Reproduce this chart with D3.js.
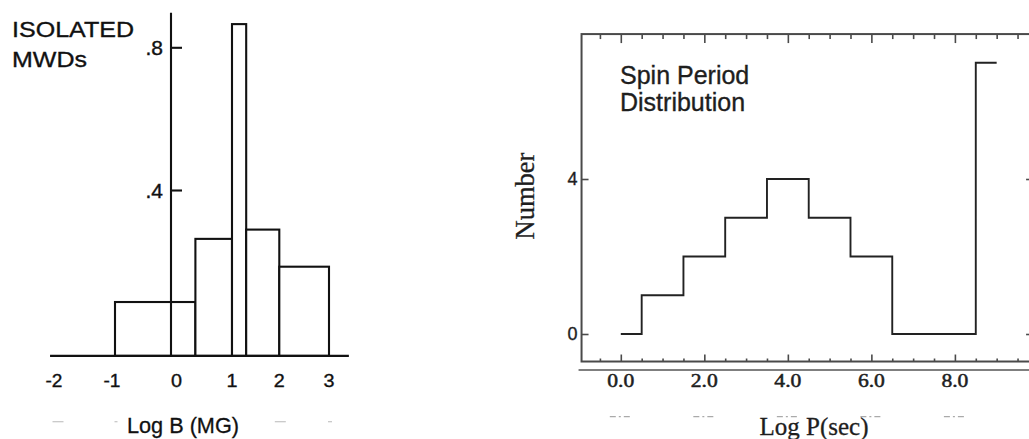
<!DOCTYPE html>
<html>
<head>
<meta charset="utf-8">
<script src="https://cdn.jsdelivr.net/npm/d3@7"></script>
<style>
  html, body { margin: 0; padding: 0; background: #fff; }
  svg { display: block; }
</style>
</head>
<body>
<script>
// ---- Isolated magnetic white dwarfs: field-strength histogram ----
const fieldBinEdges = [-1, 0.4, 1.0, 1.3, 2.0, 3.0];     // log B (MG)
const fieldFractions = [0.086, 0.263, 0.865, 0.289, 0.185];
const fieldTickValues = [-2, -1, 0, 1, 2, 3];
const fractionTickValues = [0.4, 0.8];
const fractionTickLabels = [".4", ".8"];

// ---- Spin period distribution ----
const periodBinEdges = [0, 0.5, 1.5, 2.5, 3.5, 4.5, 5.5, 6.5, 7.5, 8.5, 9.0]; // log P (s)
const periodCounts = [0, 1, 2, 3, 4, 3, 2, 0, 0, 7];
const periodMajorTicks = [0, 2, 4, 6, 8, 10];
const periodLabelTicks = [0, 2, 4, 6, 8];
const periodTickLabels = ["0.0", "2.0", "4.0", "6.0", "8.0"];
const countTickValues = [0, 4];
const countTickLabels = ["0", "4"];

const W = 1029, H = 439;
const sans = "'Liberation Sans', Arial, Helvetica, sans-serif";
const serif = "'Liberation Serif', 'Times New Roman', Times, serif";
const ink = "#111";

const svg = d3.select("body").append("svg")
  .attr("width", W).attr("height", H)
  .attr("viewBox", `0 0 ${W} ${H}`);

// heavier lettering, like the printed figure
function heavy(sel, w) {
  return sel.attr("stroke", sel.attr("fill") || ink).attr("stroke-width", w).attr("paint-order", "stroke");
}

/* ================= left panel ================= */
const left = svg.append("g");
// hand-drawn axis: the decade spacing is not uniform, so map each labelled decade
const xB = d3.scaleLinear().domain(fieldTickValues).range([57, 115, 171, 232, 279.3, 329]);
const yB = d3.scaleLinear().domain([0, 0.8]).range([332.7, 47.3]);
const floorB = -0.065;   // where the drawn baseline sits
const topB = 0.897;

left.selectAll("rect.bar")
  .data(fieldFractions)
  .join("rect")
  .attr("class", "bar")
  .attr("x", (d, i) => xB(fieldBinEdges[i]))
  .attr("width", (d, i) => xB(fieldBinEdges[i + 1]) - xB(fieldBinEdges[i]))
  .attr("y", d => yB(d))
  .attr("height", d => yB(floorB) - yB(d))
  .attr("fill", "#fff")
  .attr("stroke", ink)
  .attr("stroke-width", 2.1);

// baseline
left.append("line")
  .attr("x1", xB(-2.12)).attr("x2", xB(3.4))
  .attr("y1", yB(floorB)).attr("y2", yB(floorB))
  .attr("stroke", ink).attr("stroke-width", 2.1);

// vertical axis at log B = 0, ticks pointing right
const yAxisB = left.append("g")
  .attr("transform", `translate(${xB(0)},0)`)
  .call(d3.axisRight(yB).tickValues(fractionTickValues).tickSize(11).tickFormat(""));
yAxisB.select(".domain").remove();
yAxisB.selectAll(".tick line").attr("stroke", ink).attr("stroke-width", 2.1);
left.append("line")
  .attr("x1", xB(0)).attr("x2", xB(0))
  .attr("y1", yB(topB)).attr("y2", yB(floorB))
  .attr("stroke", ink).attr("stroke-width", 2.1);

left.selectAll("text.ylab")
  .data(fractionTickValues)
  .join("text")
  .attr("class", "ylab")
  .attr("x", xB(0) - 8)
  .attr("y", d => yB(d))
  .attr("dy", "0.36em")
  .attr("text-anchor", "end")
  .attr("font-family", sans).attr("font-size", 21)
  .attr("fill", ink)
  .text((d, i) => fractionTickLabels[i])
  .call(heavy, 0.4);

left.selectAll("text.xlab")
  .data(fieldTickValues)
  .join("text")
  .attr("class", "xlab")
  .attr("x", d => xB(d) + (d === 0 ? 11 : 5.5))
  .attr("y", 387)
  .attr("text-anchor", "end")
  .attr("font-family", sans).attr("font-size", 18)
  .attr("textLength", d => d < 0 ? 17 : 11).attr("lengthAdjust", "spacingAndGlyphs")
  .attr("fill", ink)
  .text(d => String(d))
  .call(heavy, 0.35);

// faint show-through marks under the axis labels
const ghostB = [[-2, 11], [-1, 3], [2, 11], [3, 4]];
left.selectAll("line.ghost")
  .data(ghostB)
  .join("line")
  .attr("class", "ghost")
  .attr("x1", d => xB(d[0]) - d[1] / 2 + 1).attr("x2", d => xB(d[0]) + d[1] / 2 + 1)
  .attr("y1", 421.7).attr("y2", 421.7)
  .attr("stroke", "#c4c4c4").attr("stroke-width", 1.2);

left.append("text")
  .attr("x", 183).attr("y", 433)
  .attr("text-anchor", "middle")
  .attr("font-family", sans).attr("font-size", 22)
  .attr("textLength", 112).attr("lengthAdjust", "spacingAndGlyphs")
  .attr("fill", ink)
  .text("Log B (MG)")
  .call(heavy, 0.3);

left.append("text")
  .attr("x", 12).attr("y", 36.7)
  .attr("font-family", sans).attr("font-size", 22.5)
  .attr("textLength", 122).attr("lengthAdjust", "spacingAndGlyphs")
  .attr("fill", ink)
  .text("ISOLATED")
  .call(heavy, 0.35);
left.append("text")
  .attr("x", 12).attr("y", 66.7)
  .attr("font-family", sans).attr("font-size", 22.5)
  .attr("textLength", 75).attr("lengthAdjust", "spacingAndGlyphs")
  .attr("fill", ink)
  .text("MWDs")
  .call(heavy, 0.35);

/* ================= right panel ================= */
const right = svg.append("g");
const xP = d3.scaleLinear().domain([0, 8]).range([620.8, 954.9]);
const yP = d3.scaleLinear().domain([0, 4]).range([334, 179]);
const frameX = [-0.94, 9.92];
const frameY = [-0.71, 7.74];
const frameColor = "#4a4a4a";
const rInk = "#1e1e1e";

const fx0 = xP(frameX[0]), fx1 = xP(frameX[1]);
const fy0 = yP(frameY[1]), fy1 = yP(frameY[0]);

const minorP = d3.range(-0.5, 10, 0.5).filter(v => v % 2 !== 0);

// bottom edge: ticks pointing up
const bottomAxis = right.append("g").attr("transform", `translate(0,${fy1})`);
bottomAxis.append("g")
  .call(d3.axisBottom(xP).tickValues(minorP).tickSizeInner(-3).tickSizeOuter(0).tickFormat(""));
bottomAxis.append("g")
  .call(d3.axisBottom(xP).tickValues(periodMajorTicks).tickSizeInner(-7).tickSizeOuter(0).tickFormat(""));
bottomAxis.selectAll(".domain").remove();
bottomAxis.selectAll(".tick line").attr("stroke", frameColor).attr("stroke-width", 1.6);

// labels under the second rule
right.selectAll("text.xlab")
  .data(periodLabelTicks)
  .join("text")
  .attr("class", "xlab")
  .attr("x", d => xP(d))
  .attr("y", 386.7)
  .attr("text-anchor", "middle")
  .attr("font-family", serif).attr("font-size", 19)
  .attr("textLength", 27).attr("lengthAdjust", "spacingAndGlyphs")
  .attr("fill", rInk)
  .text((d, i) => periodTickLabels[i])
  .call(heavy, 0.5);

// top edge: ticks pointing down
const topAxis = right.append("g").attr("transform", `translate(0,${fy0})`);
topAxis.append("g")
  .call(d3.axisTop(xP).tickValues(minorP).tickSizeInner(-5).tickSizeOuter(0).tickFormat(""));
topAxis.append("g")
  .call(d3.axisTop(xP).tickValues(periodMajorTicks).tickSizeInner(-9).tickSizeOuter(0).tickFormat(""));
topAxis.selectAll(".domain").remove();
topAxis.selectAll(".tick line").attr("stroke", frameColor).attr("stroke-width", 1.6);

// left edge: ticks pointing in, labels outside
const leftAxis = right.append("g").attr("transform", `translate(${fx0},0)`)
  .call(d3.axisLeft(yP).tickValues(countTickValues).tickSizeInner(-7).tickSizeOuter(0)
    .tickPadding(4).tickFormat((d, i) => countTickLabels[i]));
leftAxis.select(".domain").remove();
leftAxis.selectAll(".tick line").attr("stroke", frameColor).attr("stroke-width", 1.6);
leftAxis.selectAll("text").attr("font-family", sans).attr("font-size", 18).attr("fill", rInk)
  .call(heavy, 0.35);

// right edge: ticks pointing in
const rightAxis = right.append("g").attr("transform", `translate(${fx1},0)`)
  .call(d3.axisRight(yP).tickValues(countTickValues).tickSizeInner(-9).tickSizeOuter(0).tickFormat(""));
rightAxis.select(".domain").remove();
rightAxis.selectAll(".tick line").attr("stroke", frameColor).attr("stroke-width", 1.6);

// frame
right.append("rect")
  .attr("x", fx0).attr("y", fy0)
  .attr("width", fx1 - fx0).attr("height", fy1 - fy0)
  .attr("fill", "none").attr("stroke", frameColor).attr("stroke-width", 2);

// second rule under the frame
right.append("line")
  .attr("x1", fx0 - 3).attr("x2", W + 10)
  .attr("y1", fy1 + 8.5).attr("y2", fy1 + 8.5)
  .attr("stroke", "#555").attr("stroke-width", 1.5);

// step histogram
const stepPts = periodBinEdges.map((e, i) => [e, periodCounts[Math.min(i, periodCounts.length - 1)]]);
right.append("path")
  .datum(stepPts)
  .attr("d", d3.line().x(d => xP(d[0])).y(d => yP(d[1])).curve(d3.curveStepAfter))
  .attr("fill", "none")
  .attr("stroke", "#222")
  .attr("stroke-width", 1.9);

// faint show-through marks under the tick labels
right.selectAll("line.ghost")
  .data(periodLabelTicks)
  .join("line")
  .attr("class", "ghost")
  .attr("x1", d => xP(d) - 11).attr("x2", d => xP(d) + 11)
  .attr("y1", 416.7).attr("y2", 416.7)
  .attr("stroke", "#aaa").attr("stroke-width", 1.3)
  .attr("stroke-dasharray", "6,3,2,3");

right.append("text")
  .attr("x", 814).attr("y", 435)
  .attr("text-anchor", "middle")
  .attr("font-family", serif).attr("font-size", 25)
  .attr("fill", rInk)
  .text("Log P(sec)")
  .call(heavy, 0.3);

right.append("text")
  .attr("transform", "translate(533.5,196) rotate(-90)")
  .attr("text-anchor", "middle")
  .attr("font-family", serif).attr("font-size", 26.5)
  .attr("fill", rInk)
  .text("Number")
  .call(heavy, 0.3);

right.append("text")
  .attr("x", 620).attr("y", 84)
  .attr("font-family", sans).attr("font-size", 25)
  .attr("fill", rInk)
  .text("Spin Period")
  .call(heavy, 0.35);
right.append("text")
  .attr("x", 620).attr("y", 110.7)
  .attr("font-family", sans).attr("font-size", 25)
  .attr("fill", rInk)
  .text("Distribution")
  .call(heavy, 0.35);
</script>
</body>
</html>
